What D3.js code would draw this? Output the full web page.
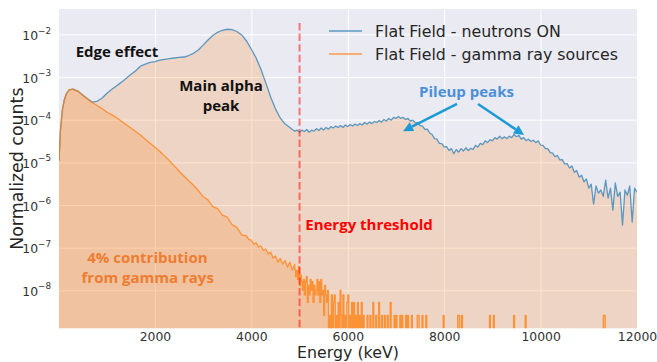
<!DOCTYPE html>
<html>
<head>
<meta charset="utf-8">
<script src="https://cdn.jsdelivr.net/npm/d3@7"></script>
<style>
  body { margin: 0; background: #fff; }
  svg { display: block; font-family: "DejaVu Sans", sans-serif; }
  .note { font-family: "Open Sans", sans-serif; font-weight: 700; }
</style>
</head>
<body>
<div id="chart"></div>
<script>
// ─── Data (energy in keV, normalized counts) ──────────────────────────────

const xDomain = [10, 12000];
const yDomain = [1.29e-9, 0.0394];
const xTicks = [2000, 4000, 6000, 8000, 10000, 12000];
const yTicks = [1e-2, 1e-3, 1e-4, 1e-5, 1e-6, 1e-7, 1e-8];

const seriesNames = ['Flat Field - neutrons ON', 'Flat Field - gamma ray sources'];

// neutrons ON, smooth part
const neutronHead = [
  [10,1.1e-5],[40,5.7e-5],[80,1.7e-4],[120,2.9e-4],[160,4.0e-4],[220,5.0e-4],[300,5.2e-4],
  [400,4.7e-4],[500,3.8e-4],[600,3.1e-4],[700,2.6e-4],[800,2.7e-4],[900,3.2e-4],[1000,4.1e-4],
  [1100,5.1e-4],[1200,6.2e-4],[1300,7.5e-4],[1400,9.2e-4],[1500,1.15e-3],[1600,1.4e-3],
  [1700,1.8e-3],[1800,2.0e-3],[1900,2.2e-3],[2000,2.3e-3],[2100,2.5e-3],[2200,2.6e-3],
  [2300,2.7e-3],[2400,2.8e-3],[2500,2.9e-3],[2600,2.95e-3],[2700,3.2e-3],[2800,3.6e-3],
  [2900,4.3e-3],[3000,5.6e-3],[3100,7.4e-3],[3200,9.4e-3],[3300,1.12e-2],[3400,1.25e-2],
  [3500,1.32e-2],[3600,1.3e-2],[3700,1.17e-2],[3800,9.7e-3],[3900,7.0e-3],[4000,4.5e-3],
  [4100,2.8e-3],[4200,1.5e-3],[4300,7.3e-4],[4400,3.4e-4],[4500,1.8e-4],[4600,1.1e-4],
  [4700,7.9e-5],[4800,6.6e-5]
];

// neutrons ON, noisy part (pileup region)
const neutronTail = [
  [4850,5.9e-5],[4900,5.4e-5],[4950,5.7e-5],[5000,5.1e-5],[5050,5.7e-5],[5100,5.3e-5],
  [5150,5.9e-5],[5200,5.1e-5],[5250,5.7e-5],[5300,5.4e-5],[5350,6.2e-5],[5400,5.6e-5],
  [5450,6.4e-5],[5500,5.7e-5],[5550,6.6e-5],[5600,6.0e-5],[5650,6.9e-5],[5700,6.4e-5],
  [5750,7.1e-5],[5800,6.6e-5],[5850,7.3e-5],[5900,6.6e-5],[5950,7.5e-5],[6000,6.9e-5],
  [6050,7.7e-5],[6100,7.1e-5],[6150,7.9e-5],[6200,7.3e-5],[6250,8.1e-5],[6300,7.5e-5],
  [6350,8.6e-5],[6400,7.9e-5],[6450,8.8e-5],[6500,8.1e-5],[6550,9.1e-5],[6600,8.6e-5],
  [6650,9.6e-5],[6700,8.8e-5],[6750,1.01e-4],[6800,9.3e-5],[6850,1.07e-4],[6900,9.8e-5],
  [6950,1.13e-4],[7000,1.07e-4],[7050,1.19e-4],[7100,1.07e-4],[7150,1.13e-4],[7200,1.01e-4],
  [7250,1.07e-4],[7300,9.3e-5],[7350,9.8e-5],[7400,8.4e-5],[7450,8.6e-5],[7500,7.3e-5],
  [7550,7.1e-5],[7600,5.9e-5],[7650,6.0e-5],[7700,4.9e-5],[7750,4.5e-5],[7800,3.6e-5],
  [7850,3.5e-5],[7900,2.8e-5],[7950,2.75e-5],[8000,2.3e-5],[8050,2.35e-5],[8100,1.9e-5],
  [8150,2.1e-5],[8200,1.6e-5],[8250,2.0e-5],[8300,1.75e-5],[8350,2.1e-5],[8400,1.85e-5],
  [8450,2.2e-5],[8500,1.9e-5],[8550,2.15e-5],[8600,2.0e-5],[8650,2.5e-5],[8700,2.3e-5],
  [8750,2.8e-5],[8800,2.6e-5],[8850,3.2e-5],[8900,2.9e-5],[8950,3.4e-5],[9000,3.2e-5],
  [9050,3.8e-5],[9100,3.5e-5],[9150,4.1e-5],[9200,3.6e-5],[9250,4.0e-5],[9300,3.6e-5],
  [9350,4.1e-5],[9400,3.8e-5],[9450,4.5e-5],[9500,4.0e-5],[9550,4.3e-5],[9600,3.5e-5],
  [9650,3.8e-5],[9700,3.25e-5],[9750,3.5e-5],[9800,3.1e-5],[9850,3.3e-5],[9900,2.9e-5],
  [9950,3.2e-5],[10000,2.55e-5],[10050,2.5e-5],[10100,2.1e-5],[10150,2.1e-5],[10200,1.7e-5],
  [10250,1.65e-5],[10300,1.37e-5],[10350,1.45e-5],[10400,1.14e-5],[10450,1.16e-5],
  [10500,9.2e-6],[10550,9.4e-6],[10600,7.4e-6],[10650,8.2e-6],[10700,5.9e-6],[10750,6.4e-6],
  [10800,4.5e-6],[10850,5.0e-6],[10900,3.5e-6],[10950,4.1e-6],[11000,2.5e-6],[11050,3.1e-6],
  [11100,1.06e-6],[11150,2.8e-6],[11200,1.9e-6],[11250,2.25e-6],[11300,1.6e-6],[11350,3.85e-6],
  [11400,1.46e-6],[11450,2.5e-6],[11500,7.6e-7],[11550,3.3e-6],[11600,1.6e-6],[11650,2.0e-6],
  [11700,3.4e-7],[11750,2.25e-6],[11800,1.7e-6],[11850,2.8e-6],[11900,4.0e-7],[11950,2.5e-6],
  [12000,2.0e-6]
];

// gamma ray sources, smooth part
const gammaHead = [
  [10,1.1e-5],[40,5.7e-5],[80,1.7e-4],[120,2.9e-4],[160,4.0e-4],[220,5.0e-4],[300,5.2e-4],
  [400,4.7e-4],[500,3.8e-4],[600,3.1e-4],[700,2.5e-4],[800,2.15e-4],[900,1.83e-4],
  [1000,1.52e-4],[1100,1.32e-4],[1200,1.13e-4],[1300,9.3e-5],[1400,7.7e-5],[1500,6.4e-5],
  [1600,5.3e-5],[1700,4.4e-5],[1800,3.5e-5],[1900,2.8e-5],[2000,2.26e-5],[2100,1.79e-5],
  [2200,1.42e-5],[2300,1.1e-5],[2400,8.3e-6],[2500,6.3e-6],[2600,4.8e-6],[2700,3.7e-6],
  [2800,2.9e-6],[2900,2.2e-6],[3000,1.57e-6],[3100,1.32e-6],[3200,9.2e-7],[3300,8.2e-7],
  [3400,5.8e-7],[3500,5.2e-7],[3600,3.5e-7],[3700,3.0e-7],[3800,2.0e-7],[3900,1.9e-7],
  [3950,1.55e-7],[4000,1.5e-7],[4050,1.2e-7],[4100,1.3e-7],[4150,1.04e-7],[4200,1.1e-7],
  [4250,8.6e-8],[4300,9.3e-8],[4350,7.1e-8],[4400,7.9e-8],[4450,5.7e-8],[4500,6.4e-8],
  [4550,4.6e-8],[4600,5.6e-8],[4650,4.1e-8],[4700,5.0e-8],[4750,3.5e-8],[4800,4.6e-8],
  [4850,3.0e-8],[4900,4.1e-8]
];

// gamma ray sources, sparse histogram bins above 4.9 MeV (bin start, value)
const gammaBinWidth = 20;
const gammaBins = [
  [4900,3.1e-8],[4920,2.1e-8],[4940,2.9e-8],[4960,1.8e-8],[4980,3.6e-8],[5000,1.3e-8],
  [5020,2.3e-8],[5040,1.6e-8],[5060,1.0e-8],[5080,1.8e-8],[5100,7.8e-9],[5120,1.6e-8],
  [5140,2.1e-8],[5160,5.2e-9],[5180,1.3e-8],[5200,7.8e-9],[5220,1.8e-8],[5240,1.0e-8],
  [5260,1.6e-8],[5280,5.2e-9],[5300,1.3e-8],[5320,7.8e-9],[5340,1.0e-8],[5360,1.8e-8],
  [5380,7.8e-9],[5400,1.6e-8],[5420,5.2e-9],[5440,1.8e-8],[5460,7.8e-9],[5480,1.0e-8],
  [5500,2.6e-9],[5520,1.3e-8],[5540,7.8e-9],[5560,5.2e-9],[5580,1.0e-8],[5620,2.6e-9],
  [5660,7.8e-9],[5700,5.2e-9],[5720,7.8e-9],[5760,2.6e-9],[5800,5.2e-9],[5840,1.0e-8],
  [5860,2.6e-9],[5900,7.8e-9],[5940,2.6e-9],[5980,5.2e-9],[6000,7.8e-9],[6040,2.6e-9],
  [6080,5.2e-9],[6120,5.2e-9],[6160,2.6e-9],[6200,5.2e-9],[6240,2.6e-9],[6280,5.2e-9],
  [6320,2.6e-9],[6400,2.6e-9],[6460,2.6e-9],[6520,5.2e-9],[6580,2.6e-9],[6640,5.2e-9],
  [6700,2.6e-9],[6760,2.6e-9],[6820,2.6e-9],[6880,5.2e-9],[6960,2.6e-9],[7000,2.6e-9],
  [7080,2.6e-9],[7120,2.6e-9],[7200,2.6e-9],[7240,2.6e-9],[7320,2.6e-9],[7440,2.6e-9],
  [7460,2.6e-9],[7540,2.6e-9],[7620,2.6e-9],[7980,2.6e-9],[8280,2.6e-9],[8300,2.6e-9],
  [8360,2.6e-9],[8940,2.6e-9],[9020,2.6e-9],[9440,2.6e-9],[9680,2.6e-9],[11300,2.6e-9],
  [11320,2.6e-9]
];

const threshold = { energy: 5000, top: 0.0185 };

// annotations in data coordinates (centre x, baseline y)
const notes = [
  { text: 'Edge effect',      e: 1213, v: 2.9e-3,  color: '#111' },
  { text: 'Main alpha',       e: 3371, v: 4.8e-4,  color: '#111' },
  { text: 'peak',             e: 3371, v: 1.6e-4,  color: '#111' },
  { text: 'Pileup peaks',     e: 8463, v: 3.4e-4,  color: '#4a90d9' },
  { text: 'Energy threshold', e: 6441, v: 2.6e-7,  color: '#ff0000' },
  { text: '4% contribution',  e: 1844, v: 4.3e-8,  color: '#ed7d31' },
  { text: 'from gamma rays',  e: 1850, v: 1.46e-8, color: '#ed7d31' }
];

// pileup arrows: [startE, startV, tipE, tipV]
const arrows = [
  [8266, 2.34e-4, 7146, 5.4e-5],
  [8702, 2.34e-4, 9656, 4.4e-5]
];

// ─── Layout ───────────────────────────────────────────────────────────────

const W = 657, H = 362;
const M = { top: 9, right: 20, bottom: 33.7, left: 59 };
const x0 = M.left, x1 = W - M.right, yTop = M.top, yBot = H - M.bottom;

const svg = d3.select('#chart').append('svg')
  .attr('width', W).attr('height', H);

svg.append('rect').attr('width', W).attr('height', H).attr('fill', '#fff');
svg.append('rect')
  .attr('x', x0).attr('y', yTop).attr('width', x1 - x0).attr('height', yBot - yTop)
  .attr('fill', '#eaeaf2');

svg.append('clipPath').attr('id', 'plot-clip')
  .append('rect')
  .attr('x', x0).attr('y', yTop).attr('width', x1 - x0).attr('height', yBot - yTop);

const x = d3.scaleLinear().domain(xDomain).range([x0, x1]);
const y = d3.scaleLog().domain(yDomain).range([yBot, yTop]);
const FLOOR = 1e-10; // below the axis, used for empty bins

// ─── Grid + tick labels ───────────────────────────────────────────────────

const gx = svg.append('g').attr('transform', `translate(0,${yBot})`)
  .call(d3.axisBottom(x).tickValues(xTicks).tickSize(-(yBot - yTop)).tickPadding(3.5)
    .tickFormat(d3.format('d')));
gx.select('.domain').remove();
gx.selectAll('.tick line').attr('stroke', '#fff').attr('stroke-width', 1);
gx.selectAll('.tick text').attr('fill', '#333').style('font-size', '12.4px')
  .style('font-family', '"DejaVu Sans", sans-serif');

const gy = svg.append('g').attr('transform', `translate(${x0},0)`)
  .call(d3.axisLeft(y).tickValues(yTicks).tickSize(-(x1 - x0)).tickFormat(() => ''));
gy.select('.domain').remove();
gy.selectAll('.tick line').attr('stroke', '#fff').attr('stroke-width', 1);

const ylab = svg.append('g').selectAll('text')
  .data(yTicks)
  .join('text')
    .attr('x', x0 - 8)
    .attr('y', d => y(d) + 5.6)
    .attr('text-anchor', 'end')
    .attr('fill', '#333')
    .style('font-size', '12.4px');
ylab.append('tspan').text('10');
ylab.append('tspan')
  .attr('dy', -6.5)
  .style('font-size', '8.8px')
  .text(d => '\u2212' + Math.abs(Math.round(Math.log10(d))));

// ─── Curves ───────────────────────────────────────────────────────────────

const neutron = neutronHead.concat(neutronTail);

// gamma: smooth head, then histogram steps for the sparse bins
const gamma = gammaHead.slice();
let prevEnd = gammaHead[gammaHead.length - 1][0];
gammaBins.forEach(([e, v]) => {
  if (e > prevEnd) { gamma.push([prevEnd, FLOOR], [e, FLOOR]); }
  gamma.push([e, v], [e + gammaBinWidth, v]);
  prevEnd = e + gammaBinWidth;
});
gamma.push([prevEnd, FLOOR], [xDomain[1], FLOOR]);

const yc = v => Math.min(y(v), yBot + 6);
const area = d3.area().x(d => x(d[0])).y0(yBot + 6).y1(d => yc(d[1]));
const line = d3.line().x(d => x(d[0])).y(d => yc(d[1]));

const plot = svg.append('g').attr('clip-path', 'url(#plot-clip)');

const FILL = 'rgba(255,127,14,0.2)';
plot.append('path').attr('d', area([[xDomain[0], FLOOR], ...neutron])).attr('fill', FILL);
plot.append('path').attr('d', area([[xDomain[0], FLOOR], ...gamma])).attr('fill', FILL);

plot.append('path').attr('d', line(neutron))
  .attr('fill', 'none').attr('stroke', '#1f77b4').attr('stroke-opacity', 0.7)
  .attr('stroke-width', 1.3).attr('stroke-linejoin', 'round');
plot.append('path').attr('d', line(gamma))
  .attr('fill', 'none').attr('stroke', '#ff7f0e').attr('stroke-opacity', 0.75)
  .attr('stroke-width', 1.3).attr('stroke-linejoin', 'round');

// threshold
plot.append('line')
  .attr('x1', x(threshold.energy)).attr('x2', x(threshold.energy))
  .attr('y1', y(threshold.top)).attr('y2', yBot)
  .attr('stroke', 'rgba(255,0,0,0.5)').attr('stroke-width', 2)
  .attr('stroke-dasharray', '7.4,3.2');

// ─── Annotations ──────────────────────────────────────────────────────────

svg.append('g').selectAll('text')
  .data(notes)
  .join('text')
    .attr('class', 'note')
    .attr('x', d => x(d.e))
    .attr('y', d => y(d.v))
    .attr('text-anchor', 'middle')
    .attr('fill', d => d.color)
    .style('font-size', '15px')
    .text(d => d.text);

const ARROW = '#1c9ad6';
arrows.forEach(([e0, v0, e1, v1]) => {
  const sx = x(e0), sy = y(v0), tx = x(e1), ty = y(v1);
  const ang = Math.atan2(ty - sy, tx - sx);
  const len = 10, half = 5;
  const bx = tx - len * Math.cos(ang), by = ty - len * Math.sin(ang);
  svg.append('line')
    .attr('x1', sx).attr('y1', sy).attr('x2', bx).attr('y2', by)
    .attr('stroke', ARROW).attr('stroke-width', 2.5);
  svg.append('path')
    .attr('d', `M${tx},${ty}L${bx + half * Math.sin(ang)},${by - half * Math.cos(ang)}` +
               `L${bx - half * Math.sin(ang)},${by + half * Math.cos(ang)}Z`)
    .attr('fill', ARROW);
});

// ─── Legend ───────────────────────────────────────────────────────────────

const legendColors = ['rgba(31,119,180,0.7)', 'rgba(255,127,14,0.75)'];
const leg = svg.append('g').selectAll('g')
  .data(seriesNames)
  .join('g')
    .attr('transform', (d, i) => `translate(329,${31 + i * 23})`);
leg.append('line').attr('x1', 0).attr('x2', 33)
  .attr('stroke', (d, i) => legendColors[i]).attr('stroke-width', 1.5);
leg.append('text').attr('x', 46).attr('y', 5.6)
  .attr('fill', '#262626').style('font-size', '15.8px')
  .text(d => d);

// ─── Axis titles ──────────────────────────────────────────────────────────

svg.append('text')
  .attr('x', (x0 + x1) / 2).attr('y', 358)
  .attr('text-anchor', 'middle').attr('fill', '#262626')
  .style('font-size', '15.8px')
  .text('Energy (keV)');

svg.append('text')
  .attr('transform', `translate(22.7,${(yTop + yBot) / 2}) rotate(-90)`)
  .attr('text-anchor', 'middle').attr('fill', '#262626')
  .style('font-size', '17.4px')
  .text('Normalized counts');
</script>
</body>
</html>
